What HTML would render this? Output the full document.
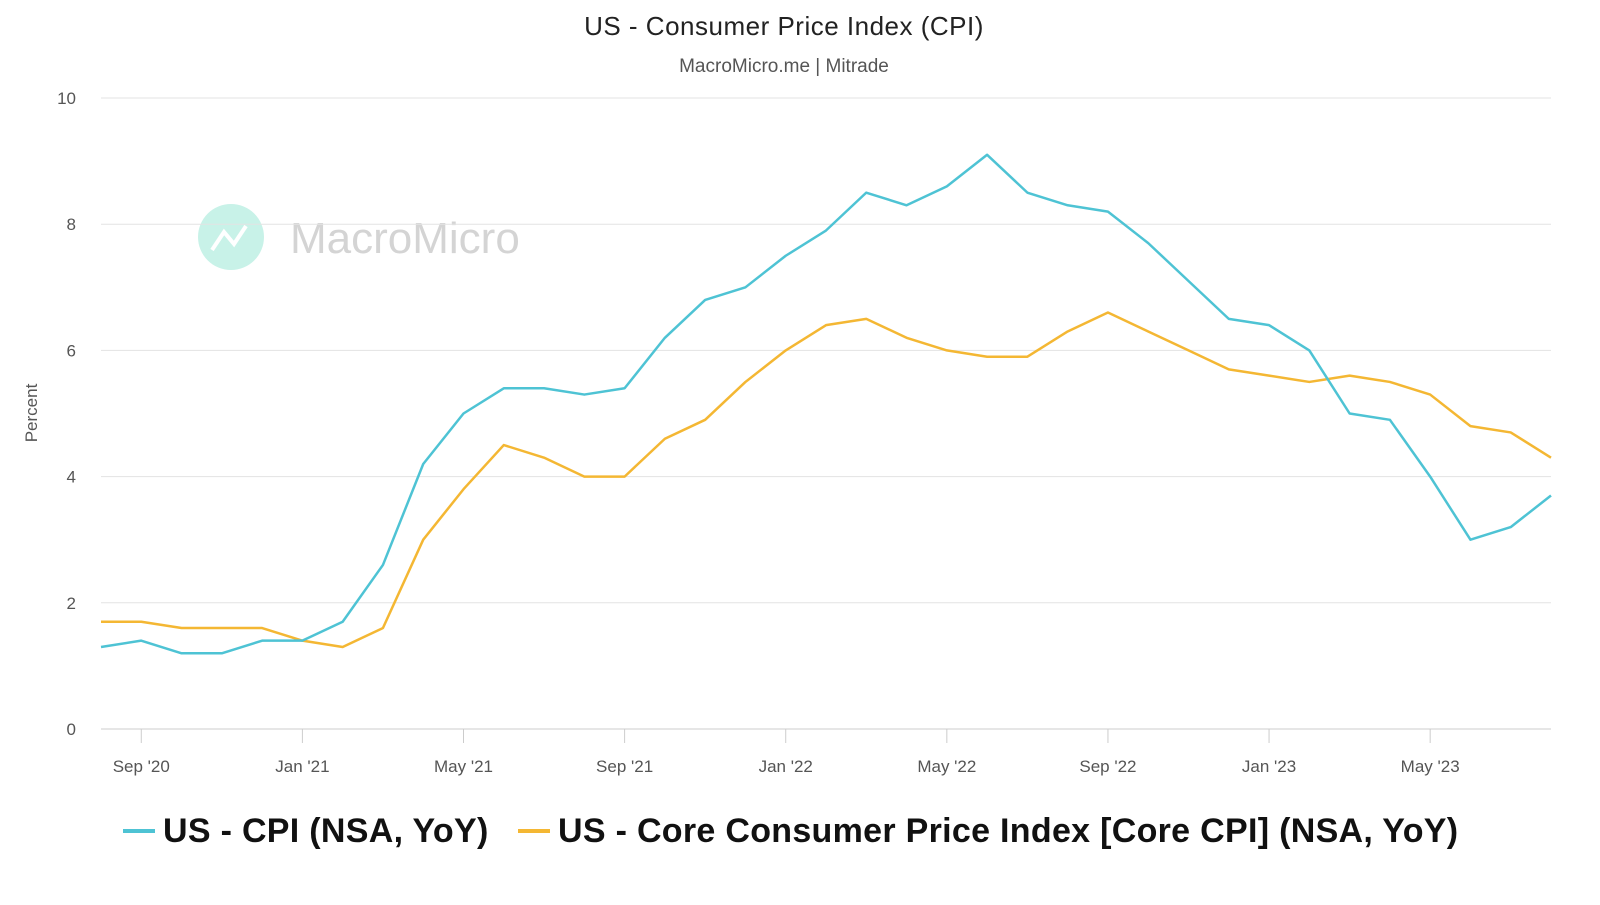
<!DOCTYPE html>
<html><head><meta charset="utf-8"><style>
body{margin:0;background:#fff;font-family:"Liberation Sans",sans-serif}
svg text{font-family:"Liberation Sans",sans-serif}
</style></head><body>
<svg id="chart" width="1600" height="900" viewBox="0 0 1600 900" xmlns="http://www.w3.org/2000/svg">
<text x="784" y="35" text-anchor="middle" font-size="26" fill="#222" letter-spacing="0.5">US - Consumer Price Index (CPI)</text>
<text x="784" y="72" text-anchor="middle" font-size="19" fill="#555">MacroMicro.me | Mitrade</text>
<g>
<circle cx="231" cy="237" r="33" fill="#c8f2e8"/>
<polyline points="212,250 224,232 234,244 246,226" fill="none" stroke="#fff" stroke-width="4"/>
<text x="290" y="253" font-size="44" fill="#d4d4d4">MacroMicro</text>
</g>
<g id="grid"></g>
<g id="xaxis"></g>
<text transform="translate(37,413) rotate(-90)" text-anchor="middle" font-size="17" fill="#555">Percent</text>
<g id="series"></g>
<g>
<g><line x1="123" y1="831" x2="155" y2="831" stroke="#4ec3d4" stroke-width="4"/>
<text x="163" y="842" font-size="34" font-weight="bold" fill="#111" letter-spacing="0.3">US - CPI (NSA, YoY)</text></g>
<g><line x1="518" y1="831" x2="550" y2="831" stroke="#f4b733" stroke-width="4"/>
<text x="558" y="842" font-size="34" font-weight="bold" fill="#111" letter-spacing="0.3">US - Core Consumer Price Index [Core CPI] (NSA, YoY)</text></g>
</g>
</svg>
<script>
const yTicks=[0,2,4,6,8,10];
const xLabels=["Sep '20","Jan '21","May '21","Sep '21","Jan '22","May '22","Sep '22","Jan '23","May '23"];
const xLabelIdx=[1,5,9,13,17,21,25,29,33];
const cpi=[1.3,1.4,1.2,1.2,1.4,1.4,1.7,2.6,4.2,5.0,5.4,5.4,5.3,5.4,6.2,6.8,7.0,7.5,7.9,8.5,8.3,8.6,9.1,8.5,8.3,8.2,7.7,7.1,6.5,6.4,6.0,5.0,4.9,4.0,3.0,3.2,3.7];
const core=[1.7,1.7,1.6,1.6,1.6,1.4,1.3,1.6,3.0,3.8,4.5,4.3,4.0,4.0,4.6,4.9,5.5,6.0,6.4,6.5,6.2,6.0,5.9,5.9,6.3,6.6,6.3,6.0,5.7,5.6,5.5,5.6,5.5,5.3,4.8,4.7,4.3];
const NS="http://www.w3.org/2000/svg";
const x0=101,x1=1551,y0=729,y1=98;
const xs=i=>x0+i*(x1-x0)/(cpi.length-1);
const ys=v=>y0-(v/10)*(y0-y1);
function mk(t,a,p){const e=document.createElementNS(NS,t);for(const k in a)e.setAttribute(k,a[k]);p.appendChild(e);return e;}
const grid=document.getElementById('grid');
yTicks.forEach(v=>{
 const l=mk('line',{x1:x0,x2:x1,y1:ys(v),y2:ys(v),stroke:v===0?'#ccc':'#e3e3e3','stroke-width':1},grid);
 
 
 const t=mk('text',{x:76,y:ys(v)+6,'text-anchor':'end','font-size':17,fill:'#555'},grid);
 t.textContent=v;
 
 
});
const xa=document.getElementById('xaxis');
xLabelIdx.forEach((idx,k)=>{
 const l=mk('line',{x1:xs(idx),x2:xs(idx),y1:y0,y2:y0+14,stroke:'#ccc'},xa);
 
 
 const t=mk('text',{x:xs(idx),y:772,'text-anchor':'middle','font-size':17,fill:'#555'},xa);
 t.textContent=xLabels[k];
 
 
});
const sg=document.getElementById('series');
[[core,'#f4b733','core-cpi-line'],[cpi,'#4ec3d4','cpi-line']].forEach(([d,c,n])=>{
 const p=mk('polyline',{points:d.map((v,i)=>xs(i)+','+ys(v)).join(' '),fill:'none',stroke:c,'stroke-width':2.5,'stroke-linejoin':'round'},sg);
 
 
});
</script>
</body></html>
